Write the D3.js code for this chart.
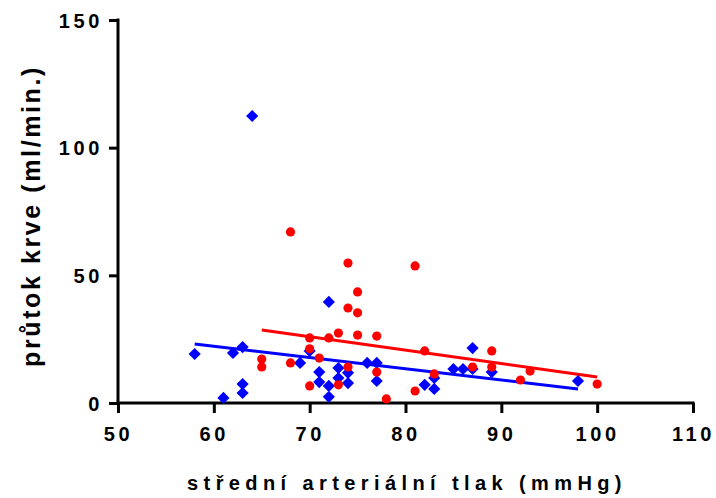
<!DOCTYPE html>
<html lang="cs">
<head>
<meta charset="utf-8">
<title>průtok krve vs. střední arteriální tlak</title>
<script src="https://cdn.jsdelivr.net/npm/d3@7"></script>
<style>
  body { margin: 0; background: #fff; }
  svg { display: block; font-family: "Liberation Sans", Arial, sans-serif; font-weight: bold; }
</style>
</head>
<body>
<div id="chart"></div>
<script>
const width = 716, height = 498;

// blue series (diamonds)
const blueX = [58, 61, 62, 63, 63, 63, 64, 69, 70, 71, 71, 72, 72, 72, 73, 73, 74, 74, 76, 77, 77, 82, 83, 83, 85, 86, 87, 87, 89, 98];
const blueY = [19.2, 2.0, 19.6, 21.9, 7.4, 3.9, 112.4, 15.7, 20.4, 12.1, 8.2, 39.6, 6.7, 2.4, 13.7, 9.8, 11.8, 7.8, 15.7, 15.7, 8.6, 7.1, 5.5, 9.8, 13.3, 13.3, 21.5, 13.3, 12.1, 8.6];

// red series (circles)
const redX = [65, 65, 68, 68, 70, 70, 70, 71, 72, 73, 73, 74, 74, 74, 75, 75, 75, 77, 77, 78, 81, 81, 82, 83, 87, 89, 89, 92, 93, 100];
const redY = [17.2, 14.1, 67.0, 15.7, 25.5, 21.2, 6.7, 17.6, 25.5, 27.4, 7.1, 54.8, 37.2, 14.1, 43.5, 35.3, 26.6, 26.2, 12.1, 1.6, 53.7, 4.7, 20.4, 11.4, 14.1, 20.4, 14.1, 9.0, 12.5, 7.4];

// fitted lines (end points)
const blueFit = [[58, 23.1], [98, 5.5]];
const redFit = [[65, 28.6], [100, 10.2]];

const xTicks = [50, 60, 70, 80, 90, 100, 110];
const yTicks = [0, 50, 100, 150];
const xTitle = "střední arteriální tlak (mmHg)";
const yTitle = "průtok krve (ml/min.)";

const x = d3.scaleLinear().domain([50, 110]).range([118, 693]);
const y = d3.scaleLinear().domain([0, 150]).range([403, 20]);

const svg = d3.select("#chart").append("svg")
  .attr("width", width)
  .attr("height", height);

// axes
const xAxis = svg.append("g")
  .attr("transform", "translate(0," + y(0) + ")")
  .call(d3.axisBottom(x).tickValues(xTicks).tickSize(10).tickPadding(14).tickSizeOuter(0));
const yAxis = svg.append("g")
  .attr("transform", "translate(" + x(50) + ",0)")
  .call(d3.axisLeft(y).tickValues(yTicks).tickSize(9).tickPadding(6).tickSizeOuter(0));

[xAxis, yAxis].forEach(function(g) {
  g.select(".domain").attr("stroke", "#000").attr("stroke-width", 3);
  g.selectAll(".tick line").attr("stroke", "#000").attr("stroke-width", 3);
  g.selectAll(".tick text")
    .attr("fill", "#000")
    .style("font-family", "'Liberation Sans', Arial, sans-serif")
    .style("font-weight", "bold")
    .style("font-size", "20px")
    .style("letter-spacing", "3.6px");
});
yAxis.selectAll(".tick text").attr("dy", "0.36em");
xAxis.select(".domain").attr("d", "M" + (x(50) - 1.5) + ",0H" + (x(110) + 1.5));
yAxis.select(".domain").attr("d", "M0," + (y(150) - 1.5) + "V" + (y(0) + 1.5));

// axis titles
svg.append("text")
  .attr("x", 407)
  .attr("y", 490)
  .attr("text-anchor", "middle")
  .style("font-size", "20px")
  .style("letter-spacing", "5.4px")
  .text(xTitle);

svg.append("text")
  .attr("transform", "translate(40,216) rotate(-90)")
  .attr("text-anchor", "middle")
  .style("font-size", "25px")
  .style("letter-spacing", "2.6px")
  .text(yTitle);

// fit lines
const line = d3.line().x(d => x(d[0])).y(d => y(d[1]));
svg.append("path").datum(blueFit).attr("d", line)
  .attr("stroke", "#0000ff").attr("stroke-width", 3).attr("fill", "none");
svg.append("path").datum(redFit).attr("d", line)
  .attr("stroke", "#ff0000").attr("stroke-width", 3).attr("fill", "none");

// points
const diamond = d3.symbol().type(d3.symbolSquare).size(74);
svg.append("g").selectAll("path")
  .data(d3.range(blueX.length))
  .join("path")
  .attr("d", diamond)
  .attr("transform", i => "translate(" + x(blueX[i]) + "," + y(blueY[i]) + ") rotate(45)")
  .attr("fill", "#0000ff");

svg.append("g").selectAll("circle")
  .data(d3.range(redX.length))
  .join("circle")
  .attr("cx", i => x(redX[i]))
  .attr("cy", i => y(redY[i]))
  .attr("r", 4.6)
  .attr("fill", "#ff0000");
</script>
</body>
</html>
